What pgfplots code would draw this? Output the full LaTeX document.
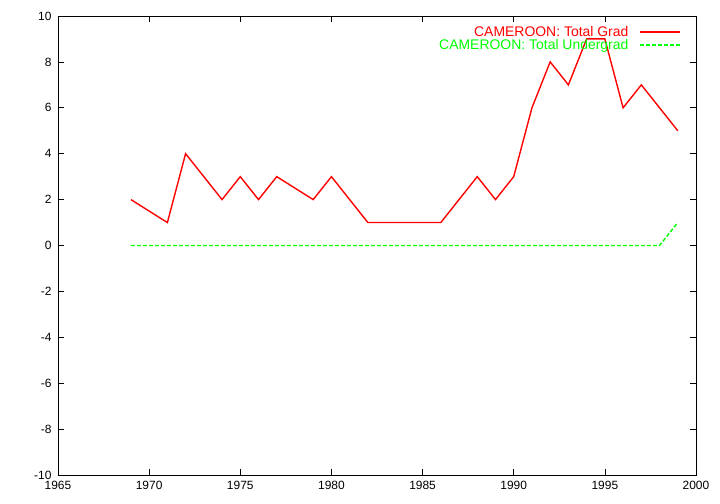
\documentclass[border=0pt]{standalone}
\usepackage{fontspec}
\setmainfont{Liberation Sans}
\usepackage{pgfplots}
\pgfplotsset{compat=1.18}
\definecolor{gred}{RGB}{255,0,0}
\definecolor{ggreen}{RGB}{0,255,0}
\begin{document}
\begin{tikzpicture}[x=1bp,y=1bp]
\begin{axis}[
  scale only axis,
  width=638bp, height=459bp,
  xmin=1965, xmax=2000, ymin=-10, ymax=10,
  xtick={1965,1970,...,2000},
  ytick={-10,-8,...,10},
  tick align=inside,
  major tick length=6bp,
  tick style={black, line width=0.6pt},
  axis line style={black, line width=0.8pt},
  /pgf/number format/assume math mode=true,
  /pgf/number format/1000 sep={},
  tick label style={font=\fontsize{12}{14}\selectfont},
  xticklabel style={yshift=-3bp},
  yticklabel style={xshift=-3bp},
  legend style={draw=none, fill=none, at={(0.978,0.985)}, anchor=north east,
    font=\fontsize{14}{15}\selectfont, row sep=-2.5pt, inner sep=1pt},
  legend cell align=right,
  legend plot pos=right,
  legend image code/.code={\path (0bp,0bp); \draw[line width=1.4pt,#1] (9bp,0bp) -- (49bp,0bp);},
]
\addplot[gred, line width=1.4pt] coordinates {
(1969,2) (1971,1) (1972,4) (1974,2) (1975,3) (1976,2) (1977,3) (1979,2) (1980,3)
(1982,1) (1986,1) (1988,3) (1989,2) (1990,3) (1991,6) (1992,8) (1993,7) (1994,9)
(1995,9) (1996,6) (1997,7) (1999,5)};
\addlegendentry{\textcolor{gred}{CAMEROON: Total Grad}}
\addplot[ggreen, line width=1.4pt, dash pattern=on 4bp off 2bp] coordinates {
(1969,0) (1970,0) (1971,0) (1972,0) (1973,0) (1974,0) (1975,0) (1976,0) (1977,0)
(1978,0) (1979,0) (1980,0) (1981,0) (1982,0) (1983,0) (1984,0) (1985,0) (1986,0)
(1987,0) (1988,0) (1989,0) (1990,0) (1991,0) (1992,0) (1993,0) (1994,0) (1995,0)
(1996,0) (1997,0) (1998,0) (1999,1)};
\addlegendentry{\textcolor{ggreen}{CAMEROON: Total Undergrad}}
\end{axis}
\useasboundingbox ([shift={(-58bp,-29bp)}]current axis.south west) rectangle ([shift={(24bp,16bp)}]current axis.north east);
\end{tikzpicture}
\end{document}
